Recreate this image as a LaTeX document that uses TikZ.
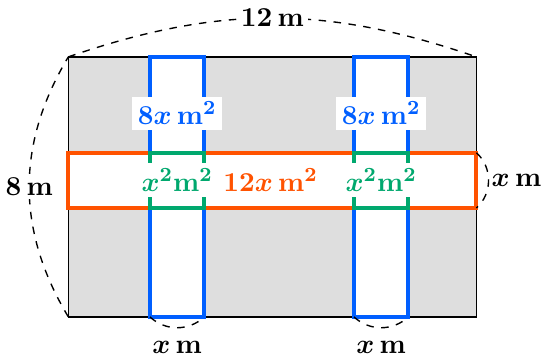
\documentclass[tikz,border=0pt]{standalone}
\usepackage{tikz}
\definecolor{fieldgray}{RGB}{222,222,222}
\definecolor{pathblue}{RGB}{0,95,255}
\definecolor{pathorange}{RGB}{255,82,0}
\definecolor{crossgreen}{RGB}{0,168,110}
\tikzset{
  dim/.style={dashed,line width=0.55pt},
  lbl/.style={fill=white,inner sep=2.2pt},
  bluepath/.style={draw=pathblue,line width=1.6pt,fill=white},
  orangepath/.style={draw=pathorange,line width=1.6pt,fill=white},
  greencross/.style={draw=crossgreen,line width=1.6pt}
}
\begin{document}
\begin{tikzpicture}[font=\fontsize{10.9}{13}\selectfont\boldmath,x=13.6pt,y=13pt]
  \useasboundingbox (-2.01,-1.2) rectangle (13.96,9.75);
  % field
  \coordinate (SW) at (0,0);
  \coordinate (NW) at (0,8);
  \coordinate (NE) at (12,8);
  \draw[semithick,fill=fieldgray] (SW) rectangle (NE);
  % paths along the width
  \foreach \x/\n in {2.4/1,8.4/2} {
    \coordinate (L\n) at (\x,0);
    \coordinate (R\n) at (\x+1.6,0);
    \draw[bluepath] (L\n) rectangle (\x+1.6,8);
  }
  % path along the length
  \coordinate (OB) at (12,3.35);
  \coordinate (OT) at (12,5.05);
  \draw[orangepath] (0,3.35) rectangle (OT);
  % crossings
  \foreach \x in {2.4,8.4} \draw[greencross] (\x,3.35) rectangle (\x+1.6,5.05);
  % areas
  \node[lbl,text=pathblue] (A1) at (3.2,6.26) {$8x\,\mathbf{m}^2$};
  \node[lbl,text=pathblue] (A2) at (9.2,6.26) {$8x\,\mathbf{m}^2$};
  \node[lbl,text=crossgreen] (C1) at (3.2,4.2) {$x^2\mathbf{m}^2$};
  \node[lbl,text=crossgreen] (C2) at (9.2,4.2) {$x^2\mathbf{m}^2$};
  \node[lbl,text=pathorange] (A3) at (5.95,4.2) {$12x\,\mathbf{m}^2$};
  % dimensions
  \draw[dim] (NW) to[bend left=19] node[lbl,inner sep=1.5pt] (W) {$12\,\mathbf{m}$} (NE);
  \draw[dim] (SW) to[bend left=31] node[lbl,inner sep=1.5pt] (H) {$8\,\mathbf{m}$} (NW);
  \draw[dim] (OT) to[bend left=49] node[right,inner sep=1pt] (S) {$x\,\mathbf{m}$} (OB);
  \draw[dim] (L1) to[bend right=43] node[below=2pt] (X1) {$x\,\mathbf{m}$} (R1);
  \draw[dim] (L2) to[bend right=43] node[below=2pt] (X2) {$x\,\mathbf{m}$} (R2);
\end{tikzpicture}
\end{document}
